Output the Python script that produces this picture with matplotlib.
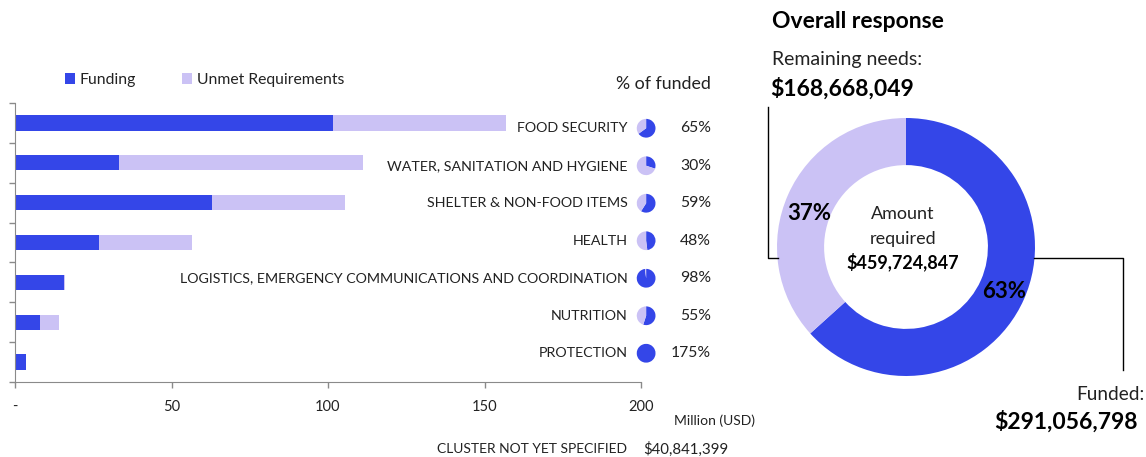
import matplotlib.pyplot as plt
import numpy as np

categories = ['FOOD SECURITY', 'WATER, SANITATION AND HYGIENE',
              'SHELTER & NON-FOOD ITEMS', 'HEALTH',
              'LOGISTICS, EMERGENCY COMMUNICATIONS AND COORDINATION',
              'NUTRITION', 'PROTECTION']
funding = [101.6, 33.2, 62.9, 26.9, 15.6, 7.9, 3.5]      # million USD
unmet = [55.3, 77.9, 42.5, 29.8, 0.3, 6.3, 0.0]
pct_funded = [65, 30, 59, 48, 98, 55, 175]
x_ticks = [0, 50, 100, 150, 200]

overall_funded = 291056798
overall_remaining = 168668049
overall_required = 459724847
not_specified = 40841399

BLUE = '#3446E8'
LIGHT = '#CBC2F5'
TXT = '#222222'
GREY = '#8a8a8a'

plt.rcParams['font.family'] = ['Lato', 'DejaVu Sans']
plt.rcParams['text.color'] = TXT

W, H = 1146, 457
fig = plt.figure(figsize=(W / 100, H / 100), dpi=100)


def fx(px):
    return px / W


def fy(py):
    return 1 - py / H


# ---- bar chart ----
ax = fig.add_axes([fx(15), fy(382), fx(641) - fx(15), fy(103) - fy(382)])
y = np.arange(len(categories))
b1 = ax.barh(y, funding, height=0.38, color=BLUE, label='Funding')
b2 = ax.barh(y, unmet, left=funding, height=0.38, color=LIGHT,
             label='Unmet Requirements')
ax.set_xlim(0, 200)
ax.set_ylim(len(categories) - 0.5, -0.5)
ax.set_yticks(np.arange(-0.5, len(categories)))
ax.set_yticklabels([])
ax.set_xticks(x_ticks)
ax.set_xticklabels(['-' if v == 0 else str(v) for v in x_ticks])
ax.tick_params(axis='y', length=4.5, color=GREY, width=1)
ax.tick_params(axis='x', length=4, color=GREY, width=1, pad=9,
               labelsize=10.5, labelcolor=TXT)
for s in ['top', 'right']:
    ax.spines[s].set_visible(False)
for s in ['left', 'bottom']:
    ax.spines[s].set_color(GREY)

# label column (its own row spacing, like a side table)
lax = fig.add_axes([fx(15), fy(372), fx(641) - fx(15), (372 - 109.5) / H])
lax.set_xlim(0, 1)
lax.set_ylim(len(categories) - 0.5, -0.5)
lax.axis('off')
tr = lax.get_yaxis_transform()
for i, (cat, p) in enumerate(zip(categories, pct_funded)):
    lax.text(0.979, i, cat, transform=tr, ha='right', va='center',
             fontsize=10.3, clip_on=False)
    lax.text(1.112, i, f'{p}%', transform=tr, ha='right', va='center',
             fontsize=11.3, clip_on=False)
    pax = lax.inset_axes([0.993, i - 0.25, 0.0304, 0.5], transform=tr)
    pax.pie([min(p, 100), max(100 - p, 0)], colors=[BLUE, LIGHT],
            startangle=90, counterclock=False)
    pax.set_xlim(-1, 1)
    pax.set_ylim(-1, 1)
    pax.set_aspect('equal')
    pax.axis('off')

ax.legend(handles=[b1, b2], ncol=2, loc='lower left', frameon=False,
          bbox_to_anchor=(fx(65), fy(87)), bbox_transform=fig.transFigure,
          borderpad=0, borderaxespad=0, handlelength=0.65, handleheight=0.65,
          handletextpad=0.3, columnspacing=2.9, fontsize=11.3)

fig.text(fx(711), fy(84), '% of funded', ha='right', va='center', fontsize=12.8)
fig.text(fx(674), fy(421), 'Million (USD)', ha='left', va='center', fontsize=10)
fig.text(fx(437), fy(449), 'CLUSTER NOT YET SPECIFIED', ha='left',
         va='center', fontsize=10)
fig.text(fx(728), fy(449), f'${not_specified:,}', ha='right',
         va='center', fontsize=10.8)

# ---- overall donut ----
dax = fig.add_axes([fx(777), fy(376), fx(258), 258 / H])
dax.pie([overall_funded, overall_remaining], colors=[BLUE, LIGHT],
        startangle=90, counterclock=False, radius=1,
        wedgeprops=dict(width=0.365))
dax.set_xlim(-1, 1)
dax.set_ylim(-1, 1)
dax.axis('off')

pf = round(100 * overall_funded / overall_required)
pr = round(100 * overall_remaining / overall_required)
fig.text(fx(809), fy(213), f'{pr}%', ha='center', va='center',
         fontsize=16, fontweight='bold', color='black')
fig.text(fx(1004), fy(292), f'{pf}%', ha='center', va='center',
         fontsize=16, fontweight='bold', color='black')
fig.text(fx(903), fy(214), 'Amount', ha='center', va='center', fontsize=13)
fig.text(fx(903), fy(239), 'required', ha='center', va='center', fontsize=13)
fig.text(fx(903), fy(262), f'${overall_required:,}', ha='center',
         va='center', fontsize=13, fontweight='bold', color='black')

fig.text(fx(772), fy(22), 'Overall response', ha='left', va='center',
         fontsize=16.5, fontweight='bold', color='black')
fig.text(fx(772), fy(59), 'Remaining needs:', ha='left', va='center',
         fontsize=14)
fig.text(fx(770), fy(89), f'${overall_remaining:,}', ha='left',
         va='center', fontsize=16.5, fontweight='bold', color='black')
fig.text(fx(1145), fy(395), 'Funded:', ha='right', va='center', fontsize=13.7)
fig.text(fx(1066), fy(422), f'${overall_funded:,}', ha='center',
         va='center', fontsize=16.5, fontweight='bold', color='black')

# leader lines
fig.add_artist(plt.Line2D([fx(768), fx(768), fx(778)],
                          [fy(107), fy(258), fy(258)], color='black', lw=1))
fig.add_artist(plt.Line2D([fx(1034), fx(1123), fx(1123)],
                          [fy(258), fy(258), fy(370)], color='black', lw=1))

fig.savefig('out.png', dpi=100)
